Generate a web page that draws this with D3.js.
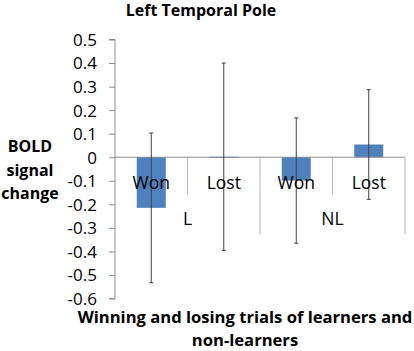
<!DOCTYPE html>
<html>
<head>
<meta charset="utf-8">
<script src="https://cdn.jsdelivr.net/npm/d3@7"></script>
<style>
body { margin: 0; background: #fff; }
text { font-family: "Open Sans", sans-serif; fill: #000; }
</style>
</head>
<body>
<svg id="chart" width="414" height="351"></svg>
<script>
// data
var categories = ["Won", "Lost", "Won", "Lost"];
var groups = ["L", "NL"];
var means = [-0.215, 0.002, -0.099, 0.054];
var errors = [0.318, 0.398, 0.266, 0.233];
var yTicks = [0.5, 0.4, 0.3, 0.2, 0.1, 0, -0.1, -0.2, -0.3, -0.4, -0.5, -0.6];

var svg = d3.select("#chart");
var plotL = 115, plotR = 405, plotT = 39.5, plotB = 298.5;

var x = d3.scaleBand().domain(d3.range(categories.length)).range([plotL, plotR]).padding(0);
var y = d3.scaleLinear().domain([-0.6, 0.5]).range([plotB, plotT]);
var axisCol = "#8c8c8c";

// title
svg.append("text")
  .attr("x", 201).attr("y", 16)
  .attr("text-anchor", "middle")
  .style("font-weight", "bold").style("font-size", "16px")
  .text("Left Temporal Pole");

// y axis
var yAxis = d3.axisLeft(y).tickValues(yTicks).tickSize(6).tickPadding(12)
  .tickFormat(function(d) { return d === 0 ? "0" : d3.format(".1f")(d).replace("−", "-"); });
var gy = svg.append("g").attr("transform", "translate(" + plotL + ",0)").call(yAxis);
gy.select(".domain").attr("stroke", axisCol).attr("d", "M-6," + plotT + "H0V" + plotB + "H-6");
gy.selectAll(".tick line").attr("stroke", axisCol);
gy.selectAll(".tick text").style("font-size", "17px").attr("dy", "0.35em")
  .style("font-family", "'Open Sans', sans-serif").attr("fill", "#000");

// bars
svg.append("g").selectAll("rect").data(means).join("rect")
  .attr("x", function(d, i) { return x(i) + x.bandwidth() * 0.3; })
  .attr("width", x.bandwidth() * 0.4)
  .attr("y", function(d) { return y(Math.max(0, d)); })
  .attr("height", function(d) { return Math.max(1, Math.abs(y(d) - y(0))); })
  .attr("fill", "#4f81bd");

// zero line
svg.append("line")
  .attr("x1", plotL).attr("x2", plotR)
  .attr("y1", y(0)).attr("y2", y(0))
  .attr("stroke", axisCol);

// category separators
var sep = svg.append("g");
for (var i = 1; i <= categories.length; i++) {
  var longTick = (i % 2 === 0);
  sep.append("line")
    .attr("x1", x.step() * i + plotL).attr("x2", x.step() * i + plotL)
    .attr("y1", y(0)).attr("y2", longTick ? 234 : 195)
    .attr("stroke", "#b8b8b8");
}

// error bars
var eb = svg.append("g").attr("stroke", "#404040").attr("stroke-width", 1);
means.forEach(function(m, i) {
  var cx = x(i) + x.bandwidth() / 2;
  eb.append("line").attr("x1", cx).attr("x2", cx)
    .attr("y1", y(m + errors[i])).attr("y2", y(m - errors[i]));
  [m + errors[i], m - errors[i]].forEach(function(v) {
    eb.append("line").attr("x1", cx - 2).attr("x2", cx + 2)
      .attr("y1", y(v)).attr("y2", y(v));
  });
});

// category labels
svg.append("g").selectAll("text").data(categories).join("text")
  .attr("x", function(d, i) { return x(i) + x.bandwidth() / 2; })
  .attr("y", 189)
  .attr("text-anchor", "middle")
  .style("font-size", "17.5px")
  .text(function(d) { return d; });

// group labels
svg.append("g").selectAll("text").data(groups).join("text")
  .attr("x", function(d, i) { return plotL + x.step() * (2 * i + 1); })
  .attr("y", 225)
  .attr("text-anchor", "middle")
  .style("font-size", "17.5px")
  .text(function(d) { return d; });

// y title
var yt = svg.append("text").attr("text-anchor", "middle")
  .style("font-weight", "bold").style("font-size", "16px");
["BOLD", "signal", "change"].forEach(function(s, i) {
  yt.append("tspan").attr("x", 30).attr("y", 152 + i * 23.5).text(s);
});

// x title
var xt = svg.append("text").attr("text-anchor", "middle")
  .style("font-weight", "bold").style("font-size", "16.6px");
["Winning and losing trials of learners and", "non-learners"].forEach(function(s, i) {
  xt.append("tspan").attr("x", 245).attr("y", 323 + i * 22.5).text(s);
});
</script>
</body>
</html>
